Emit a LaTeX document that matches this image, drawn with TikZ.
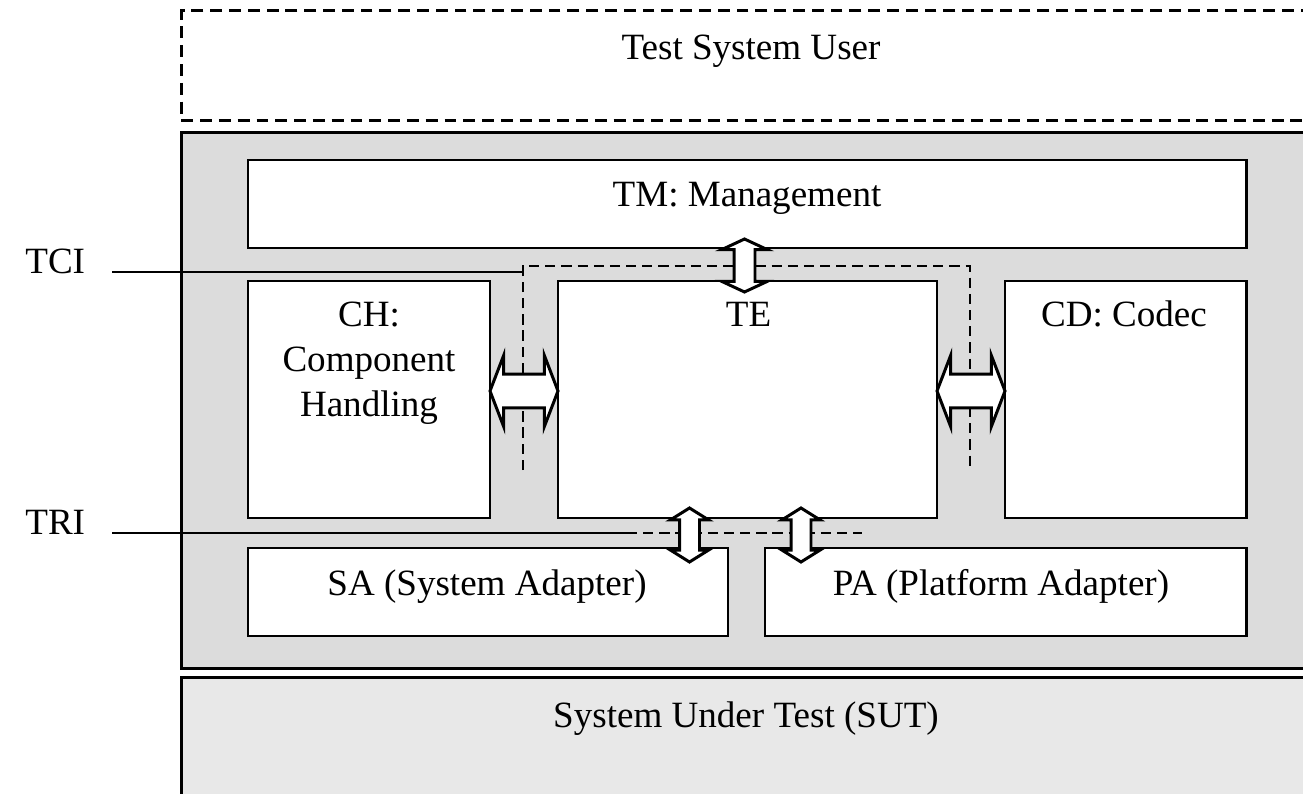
\documentclass[tikz,border=0pt]{standalone}
\usepackage{fontspec}
\setmainfont{Liberation Serif}
\usetikzlibrary{shapes.arrows, positioning}
\definecolor{panelgray}{RGB}{220,220,220}
\definecolor{sutgray}{RGB}{232,232,232}
\newcommand{\pxl}{0.02cm}

\begin{document}
\begin{tikzpicture}[x=0.02cm, y=-0.02cm,
    frame/.style={rectangle, draw, line width=1.5pt, anchor=north west, inner sep=0pt, minimum width=1150*\pxl},
    box/.style={rectangle, draw, fill=white, line width=1.7pt, inner sep=0pt},
    lbl/.style={anchor=base, inner sep=0pt, font=\fontsize{21.1}{25.6}\selectfont},
    wire/.style={line width=1.2pt},
    iface/.style={line width=1.5pt, dash pattern=on 5.8pt off 3.4pt},
    dblarrow/.style={shape=double arrow, draw, fill=white, line width=1.7pt, inner xsep=0pt}]

    \useasboundingbox (0,0) rectangle (1303,794);
    \clip (0,0) rectangle (1303,794);

    % outer frames
    \node[frame, dash pattern=on 6.8pt off 3.9pt, minimum height=109.5*\pxl] (user) at (180,9.5) {};
    \node[frame, fill=panelgray, minimum height=536*\pxl] (tsys) at (180,131) {};
    \node[frame, fill=sutgray, minimum height=200*\pxl] (sut) at (180,676) {};

    % entities
    \node[box, minimum width=998*\pxl, minimum height=88*\pxl] (tm) at (747,204) {};
    \node[box, minimum width=242*\pxl, minimum height=237*\pxl] (ch) at (369,399.5) {};
    \node[box, minimum width=379*\pxl, minimum height=237*\pxl] (te) at (747.5,399.5) {};
    \node[box, minimum width=241*\pxl, minimum height=237*\pxl] (cd) at (1125.5,399.5) {};
    \node[box, minimum width=480*\pxl, minimum height=88*\pxl] (sa) at (488,592) {};
    \node[box, minimum width=481*\pxl, minimum height=88*\pxl] (pa) at (1005.5,592) {};

    % interfaces
    \node[lbl, anchor=base west] (tci) at (25,274) {TCI};
    \node[lbl, anchor=base west] (tri) at (25,534) {TRI};
    \coordinate (tciA) at (112,272);
    \coordinate (tciB) at (523,272);
    \coordinate (tciC) at (523,470);
    \coordinate (tciR) at (970,266);
    \coordinate (tciD) at (970,470);
    \coordinate (triA) at (112,533);
    \coordinate (triB) at (627,533);
    \coordinate (triC) at (862,533);

    \draw[wire] (tciA) -- (tciB);
    \draw[iface] (tciC) |- (tciR) -- (tciD);
    \draw[wire] (triA) -- (triB);
    \draw[iface] (triB) -- (triC);

    % exchange arrows
    \node[dblarrow, minimum height=38.7pt, inner ysep=8.82pt, double arrow head extend=10.53pt, double arrow tip angle=138] (chte) at (524,391) {};
    \node[dblarrow, minimum height=38.7pt, inner ysep=8.82pt, double arrow head extend=10.53pt, double arrow tip angle=138] (tecd) at (971,391) {};
    \node[dblarrow, rotate=90, minimum height=30.16pt, inner ysep=5.12pt, double arrow head extend=7.11pt, double arrow tip angle=130] (tmte) at (744.5,265.5) {};
    \node[dblarrow, rotate=90, minimum height=30.73pt, inner ysep=4.84pt, double arrow head extend=5.12pt, double arrow tip angle=116] (tesa) at (689.5,535) {};
    \node[dblarrow, rotate=90, minimum height=30.73pt, inner ysep=4.84pt, double arrow head extend=5.12pt, double arrow tip angle=116] (tepa) at (801,535) {};

    % texts
    \node[lbl] (usertext) at (751,60) {Test System User};
    \node[lbl] (tmtext) at (747,206.7) {TM: Management};
    \node[lbl, anchor=north, align=center] (chtext) at (369,302.1) {CH:\\Component\\Handling};
    \node[lbl] (tetext) at (748.5,326.7) {TE};
    \node[lbl] (cdtext) at (1124,326.7) {CD: Codec};
    \node[lbl] (satext) at (487,595) {SA (System Adapter)};
    \node[lbl] (patext) at (1001,595) {PA (Platform Adapter)};
    \node[lbl] (suttext) at (746,727) {System Under Test (SUT)};
\end{tikzpicture}
\end{document}
